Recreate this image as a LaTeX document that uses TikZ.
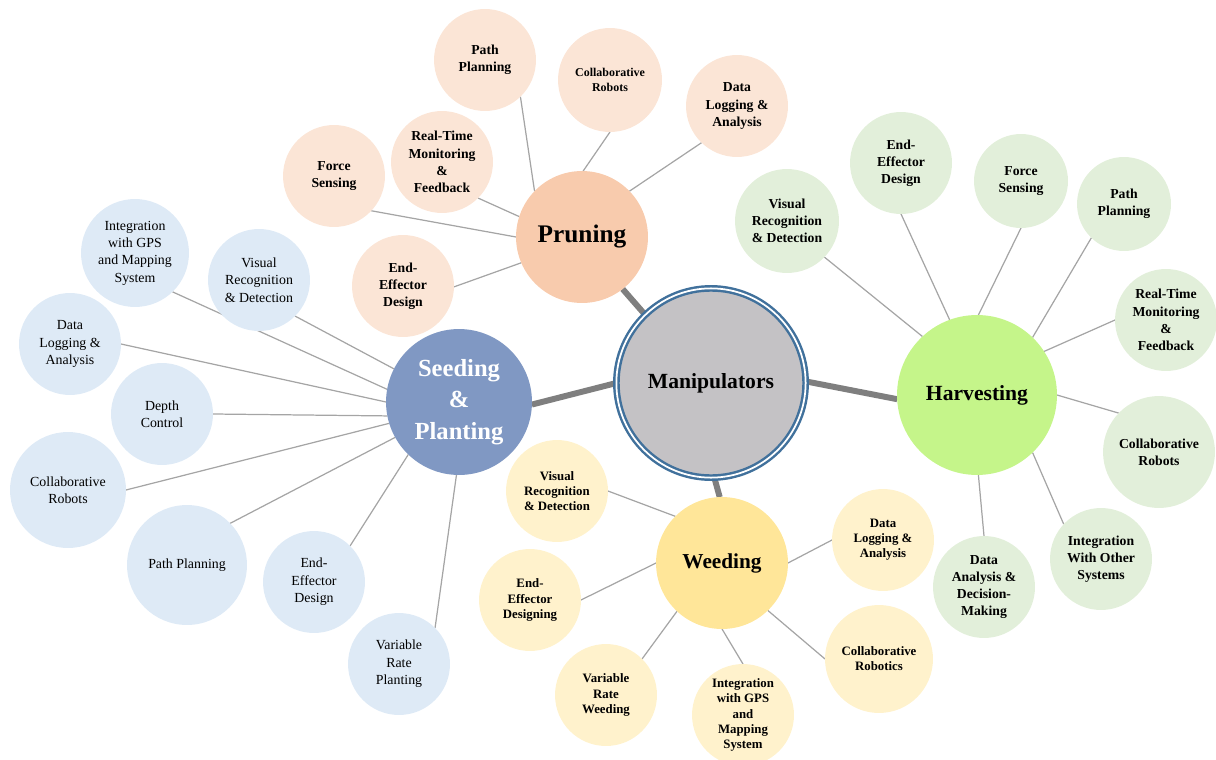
\documentclass[tikz,border=0pt]{standalone}
\usepackage{fontspec}
\setmainfont{Liberation Serif}
\usetikzlibrary{backgrounds}

% palette
\definecolor{hubfill}{HTML}{C4C2C5}
\definecolor{hubring}{HTML}{41719C}
\definecolor{prunemain}{HTML}{F8CBAD}
\definecolor{prunesub}{HTML}{FBE5D6}
\definecolor{seedmain}{HTML}{8098C3}
\definecolor{seedsub}{HTML}{DEEAF6}
\definecolor{weedmain}{HTML}{FFE699}
\definecolor{weedsub}{HTML}{FFF2CC}
\definecolor{harvmain}{HTML}{C5F58A}
\definecolor{harvsub}{HTML}{E2EFDA}
\definecolor{spoke}{HTML}{A5A5A5}
\definecolor{trunk}{HTML}{7F7F7F}

\tikzset{
  bub/.style={circle, inner sep=0pt, outer sep=0pt, minimum size=#1*0.04cm, align=center},
  boldsub/.style={font=\fontsize{7.8}{9.8}\selectfont\bfseries},
  plainsub/.style={font=\fontsize{7.9}{9.9}\selectfont},
  weedtext/.style={font=\fontsize{7.3}{8.6}\selectfont\bfseries},
  spokeline/.style={draw=spoke, line width=0.7pt},
  trunkline/.style={draw=trunk, line width=3.4pt},
}

\begin{document}
\begin{tikzpicture}[x=0.02cm, y=-0.02cm]
\useasboundingbox (0,0) rectangle (1216,760);

% central hub with double blue ring
\node[circle, inner sep=0pt, outer sep=0pt, minimum size=3.786cm, fill=hubfill,
      draw=hubring, line width=1.4pt, double=white, double distance=1pt,
      font=\fontsize{12.3}{14}\selectfont\bfseries] (M) at (711,383) {Manipulators};

% four branch hubs
\node[bub=66, fill=prunemain, font=\fontsize{14.4}{16}\selectfont\bfseries] (P) at (582,237) {Pruning};
\node[bub=73, fill=seedmain, text=white, font=\fontsize{14}{17.9}\selectfont\bfseries] (S) at (459,402) {Seeding\\\&\\Planting};
\node[bub=66, fill=weedmain, font=\fontsize{12.1}{14}\selectfont\bfseries] (W) at (722,563) {Weeding};
\node[bub=80, fill=harvmain, font=\fontsize{12.3}{14}\selectfont\bfseries] (H) at (977,395) {Harvesting};

% pruning leaves
\node[bub=51, fill=prunesub, boldsub] (ppP) at (485,60) {Path\\Planning};
\node[bub=52, fill=prunesub, font=\fontsize{6.8}{8.1}\selectfont\bfseries] (crP) at (610,80) {Collaborative\\Robots};
\node[bub=51, fill=prunesub, boldsub] (dlP) at (737,106) {Data\\Logging \&\\Analysis};
\node[bub=51, fill=prunesub, boldsub] (rtP) at (442,162) {Real-Time\\Monitoring\\\&\\Feedback};
\node[bub=51, fill=prunesub, boldsub] (fsP) at (334,176) {Force\\Sensing};
\node[bub=51, fill=prunesub, boldsub] (edP) at (403,286) {End-\\Effector\\Design};

% harvesting leaves
\node[bub=52, fill=harvsub, boldsub] (vrH) at (787,221) {Visual\\Recognition\\\& Detection};
\node[bub=51, fill=harvsub, boldsub] (edH) at (901,163) {End-\\Effector\\Design};
\node[bub=47, fill=harvsub, boldsub] (fsH) at (1021,181) {Force\\Sensing};
\node[bub=47, fill=harvsub, boldsub] (ppH) at (1124,204) {Path\\Planning};
\node[bub=51, fill=harvsub, boldsub] (rtH) at (1166,320) {Real-Time\\Monitoring\\\&\\Feedback};
\node[bub=56, fill=harvsub, boldsub] (crH) at (1159,452) {Collaborative\\Robots};
\node[bub=51, fill=harvsub, boldsub] (iwH) at (1101,559) {Integration\\With Other\\Systems};
\node[bub=51, fill=harvsub, boldsub] (daH) at (984,587) {Data\\Analysis \&\\Decision-\\Making};

% seeding & planting leaves
\node[bub=54, fill=seedsub, plainsub] (igS) at (135,253) {Integration\\with GPS\\and Mapping\\System};
\node[bub=51, fill=seedsub, plainsub] (vrS) at (259,280) {Visual\\Recognition\\\& Detection};
\node[bub=51, fill=seedsub, plainsub] (dlS) at (70,344) {Data\\Logging \&\\Analysis};
\node[bub=51, fill=seedsub, plainsub] (dcS) at (162,414) {Depth\\Control};
\node[bub=58, fill=seedsub, plainsub] (crS) at (68,490) {Collaborative\\Robots};
\node[bub=60, fill=seedsub, plainsub] (ppS) at (187,565) {Path Planning};
\node[bub=51, fill=seedsub, plainsub] (edS) at (314,582) {End-\\Effector\\Design};
\node[bub=51, fill=seedsub, plainsub] (vpS) at (399,664) {Variable\\Rate\\Planting};

% weeding leaves
\node[bub=51, fill=weedsub, weedtext] (vrW) at (557,491) {Visual\\Recognition\\\& Detection};
\node[bub=51, fill=weedsub, weedtext] (edW) at (530,600) {End-\\Effector\\Designing};
\node[bub=51, fill=weedsub, weedtext] (vwW) at (606,695) {Variable\\Rate\\Weeding};
\node[bub=51, fill=weedsub, weedtext] (igW) at (743,715) {Integration\\with GPS\\and\\Mapping\\System};
\node[bub=54, fill=weedsub, weedtext] (crW) at (879,659) {Collaborative\\Robotics};
\node[bub=51, fill=weedsub, weedtext] (dlW) at (883,540) {Data\\Logging \&\\Analysis};

\begin{scope}[on background layer]
  % hub to branches
  \draw[trunkline] (P.-52) -- (M.134);
  \draw[trunkline] (S.-2) -- (M.180);
  \draw[trunkline] (M.1) -- (H.183);
  \draw[trunkline] (M.-88) -- (W.92);

  % pruning spokes
  \draw[spokeline] (ppP.-46) -- (P.136);
  \draw[spokeline] (crP.-90) -- (P.89);
  \draw[spokeline] (dlP.-134) -- (P.44);
  \draw[spokeline] (rtP.-45) -- (P.162);
  \draw[spokeline] (fsP.-43) -- (P.180);
  \draw[spokeline] (edP.-1) -- (P.203);

  % harvesting spokes
  \draw[spokeline] (vrH.-44) -- (H.133);
  \draw[spokeline] (edH.-90) -- (H.110);
  \draw[spokeline] (fsH.-90) -- (H.89);
  \draw[spokeline] (ppH.-134) -- (H.46);
  \draw[spokeline] (rtH.180) -- (H.33);
  \draw[spokeline] (crH.136) -- (H.0);
  \draw[spokeline] (iwH.137) -- (H.-46);
  \draw[spokeline] (daH.90) -- (H.-89);

  % seeding & planting spokes
  \draw[spokeline] (igS.-46) -- (S.170);
  \draw[spokeline] (vrS.-45) -- (S.153);
  \draw[spokeline] (dlS.0) -- (S.180);
  \draw[spokeline] (dcS.0) -- (S.191);
  \draw[spokeline] (crS.0) -- (S.197);
  \draw[spokeline] (ppS.44) -- (S.209);
  \draw[spokeline] (edS.45) -- (S.226);
  \draw[spokeline] (vpS.45) -- (S.268);

  % weeding spokes
  \draw[spokeline] (vrW.0) -- (W.135);
  \draw[spokeline] (edW.0) -- (W.180);
  \draw[spokeline] (vwW.45) -- (W.-133);
  \draw[spokeline] (igW.90) -- (W.-90);
  \draw[spokeline] (crW.180) -- (W.-46);
  \draw[spokeline] (dlW.180) -- (W.0);
\end{scope}
\end{tikzpicture}
\end{document}
